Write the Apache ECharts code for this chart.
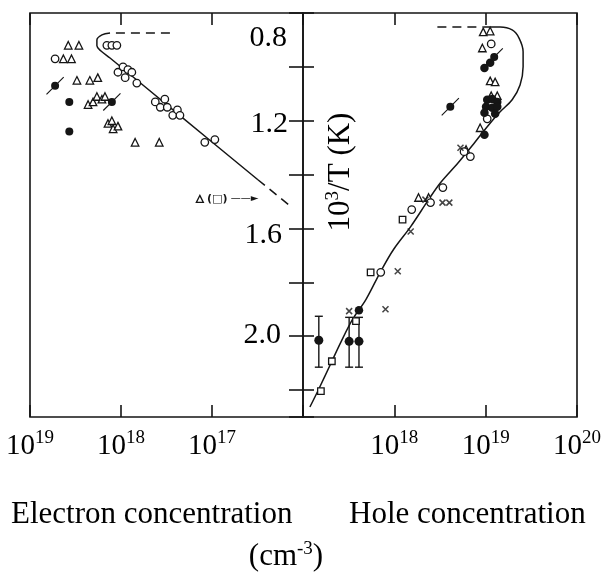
<!DOCTYPE html>
<html><head><meta charset="utf-8">
<script src="https://cdn.jsdelivr.net/npm/echarts@6/dist/echarts.min.js"></script>
<style>html,body{margin:0;padding:0;background:#fff}#c{width:606px;height:573px}</style>
</head><body><div id="c"></div>
<script>
// ---- tick labels ----
const leftTickExps = [19, 18, 17];
const rightTickExps = [18, 19, 20];
const yTickLabels = ['0.8', '1.2', '1.6', '2.0'];
const xTitleLeft = 'Electron concentration';
const xTitleRight = 'Hole concentration';

// ---- electron panel (n [cm^-3], 10^3/T) ----
const elecOpenCircles = [[1.43e18,0.92],[1.26e18,0.92],[1.11e18,0.92],[1.08e18,1.02],[9.5e17,1.00],[8.4e17,1.01],[7.6e17,1.02],[9.0e17,1.04],[6.7e17,1.06],[4.2e17,1.13],[3.7e17,1.15],[3.3e17,1.12],[3.1e17,1.15],[2.7e17,1.18],[2.4e17,1.16],[2.25e17,1.18],[1.2e17,1.28],[9.3e16,1.27],[5.3e18,0.97]];
const elecTriangles = [[3.8e18,0.92],[2.9e18,0.92],[4.3e18,0.97],[3.5e18,0.97],[3.05e18,1.05],[2.2e18,1.05],[1.8e18,1.04],[2.3e18,1.14],[2.03e18,1.13],[1.84e18,1.11],[1.62e18,1.12],[1.5e18,1.11],[1.39e18,1.21],[1.26e18,1.20],[1.22e18,1.23],[1.08e18,1.22],[7.0e17,1.28],[3.8e17,1.28]];
const elecAnnotTriangle = [[1.36e17,1.49]];
const elecFilled = [[3.7e18,1.13],[3.7e18,1.24]];
const elecSlashed = [[5.3e18,1.07],[1.26e18,1.13]];
const elecCurveDashTop = [[2.9e17,0.874],[1.32e18,0.874]];
const elecCurve = [[1.32e18,0.874],[1.62e18,0.881],[1.84e18,0.90],[1.84e18,0.922],[1.66e18,0.941],[1.32e18,0.967],[2.25e17,1.181],[3.13e16,1.419]];
const elecCurveDashEnd = [[3.13e16,1.419],[1.32e16,1.522]];

// ---- hole panel (p [cm^-3], 10^3/T) ----
const holeTriangles = [[9.4e18,0.87],[1.12e19,0.867],[9.2e18,0.93],[1.12e19,1.052],[1.27e19,1.056],[1.15e19,1.107],[1.34e19,1.107],[8.7e18,1.226],[6.1e18,1.307],[1.84e18,1.485],[2.37e18,1.485]];
const holeOpenCircles = [[1.15e19,0.915],[1.04e19,1.193],[6.8e18,1.333],[5.8e18,1.315],[3.4e18,1.448],[2.49e18,1.504],[1.55e18,1.53],[7.1e17,1.763]];
const holeSquares = [[1.23e18,1.567],[5.5e17,1.763],[3.8e17,1.944],[2.07e17,2.093],[1.57e17,2.204]];
const holeCrosses = [[5.3e18,1.30],[2.19e18,1.493],[3.37e18,1.504],[4.0e18,1.504],[1.51e18,1.611],[1.09e18,1.759],[8.0e17,1.90],[3.2e17,1.907]];
const holeFilled = [[1.12e19,0.985],[9.7e18,1.004],[1.04e19,1.122],[1.18e19,1.119],[1.34e19,1.13],[1.01e19,1.148],[1.18e19,1.152],[1.34e19,1.148],[9.7e18,1.17],[1.27e19,1.174],[9.7e18,1.252],[4.1e17,1.904]];
const holeSlashed = [[1.24e19,0.963],[4.1e18,1.148]];
const holeErrorBars = [[1.49e17,2.015,1.926,2.115],[3.2e17,2.019,1.93,2.115],[4.1e17,2.019,1.93,2.115]];
const holeCurveDashTop = [[2.96e18,0.852],[9.4e18,0.852]];
const holeCurve = [[9.4e18,0.852],[1.44e19,0.852],[1.95e19,0.863],[2.32e19,0.893],[2.57e19,0.944],[2.57e19,1.0],[2.38e19,1.067],[1.95e19,1.122],[1.44e19,1.167],[1.04e19,1.222],[7.7e18,1.278],[5.0e18,1.356],[3.2e18,1.43],[2.37e18,1.493],[1.51e18,1.593],[9.8e17,1.678],[7.1e17,1.759],[4.9e17,1.863],[3.5e17,1.937],[2.6e17,2.022],[2.0e17,2.104],[1.49e17,2.196],[1.19e17,2.263]];

// ---- styling ----
const INK = '#151515';
const SERIF = '"Liberation Serif", "Times New Roman", serif';
const slashPath = 'path://M-4,0A4,4,0,1,0,4,0A4,4,0,1,0,-4,0Z M-9,8.2L-8.2,9L9,-8.2L8.2,-9Z';
const crossPath = 'path://M0,0L10,10M10,0L0,10';
const richTick = {
  b: {fontFamily: SERIF, fontSize: 29, lineHeight: 32, color: '#000', verticalAlign: 'bottom'},
  s: {fontFamily: SERIF, fontSize: 19, lineHeight: 16, color: '#000', verticalAlign: 'top'}
};
function tickFmt(exps) {
  return function (v) {
    const e = Math.round(Math.log10(v));
    return exps.indexOf(e) >= 0 ? '{b|10}{s|' + e + '}' : '';
  };
}
function xAx(gi, pos, minV, maxV, inv, exps) {
  return {
    type: 'log', logBase: 10, gridIndex: gi, position: pos, min: minV, max: maxV, inverse: inv,
    axisLine: {show: false},
    axisTick: {show: true, inside: true, length: 12, lineStyle: {color: INK, width: 1.6}},
    splitLine: {show: false}, minorTick: {show: false},
    axisLabel: exps ? {show: true, margin: 12, showMinLabel: true, showMaxLabel: true, formatter: tickFmt(exps), rich: richTick} : {show: false}
  };
}
function yAx(gi, pos, len) {
  return {
    type: 'value', gridIndex: gi, position: pos, inverse: true, min: 0.8, max: 2.3, interval: 0.2,
    axisLine: {show: false},
    axisTick: {show: true, inside: true, length: len, lineStyle: {color: INK, width: 1.6}},
    axisLabel: {show: false}, splitLine: {show: false}
  };
}
function lineS(xi, yi, data, dashed) {
  return {type: 'line', xAxisIndex: xi, yAxisIndex: yi, data: data, symbol: 'none', smooth: dashed ? false : 0.35,
    lineStyle: {color: INK, width: 1.5, type: dashed ? [9, 6] : 'solid'}, z: 2, silent: true};
}
function openS(xi, yi, data, symbol, size) {
  return {type: 'scatter', xAxisIndex: xi, yAxisIndex: yi, data: data, symbol: symbol, symbolSize: size,
    itemStyle: {color: '#fff', borderColor: INK, borderWidth: 1.3, opacity: 1}, z: 5};
}
function filledS(xi, yi, data, symbol, size) {
  return {type: 'scatter', xAxisIndex: xi, yAxisIndex: yi, data: data, symbol: symbol, symbolSize: size,
    itemStyle: {color: INK, opacity: 1}, z: 6};
}

const option = {
  animation: false,
  backgroundColor: '#fff',
  grid: [
    {left: 30, top: 13, width: 273, height: 404, show: true, borderColor: INK, borderWidth: 1.6},
    {left: 303, top: 13, width: 274, height: 404, show: true, borderColor: INK, borderWidth: 1.6}
  ],
  xAxis: [
    xAx(0, 'bottom', 1e16, 1e19, true, leftTickExps),
    xAx(0, 'top', 1e16, 1e19, true, null),
    xAx(1, 'bottom', 1e17, 1e20, false, rightTickExps),
    xAx(1, 'top', 1e17, 1e20, false, null)
  ],
  yAxis: [yAx(0, 'right', 14), yAx(1, 'left', 11)],
  series: [
    lineS(0, 0, elecCurveDashTop, true),
    lineS(0, 0, elecCurve, false),
    lineS(0, 0, elecCurveDashEnd, true),
    openS(0, 0, elecOpenCircles, 'circle', 7.5),
    openS(0, 0, elecTriangles, 'triangle', 7.5),
    Object.assign(openS(0, 0, elecAnnotTriangle, 'triangle', 7), {
      label: {show: true, position: 'right', distance: 3,
        formatter: '{t|(□)} {a|——►}',
        rich: {t: {fontFamily: '"DejaVu Sans"', fontSize: 11, fontWeight: 'bold', color: INK},
               a: {fontFamily: '"DejaVu Sans"', fontSize: 10, color: INK}}}
    }),
    filledS(0, 0, elecFilled, 'circle', 8),
    filledS(0, 0, elecSlashed, slashPath, 18),

    lineS(2, 1, holeCurveDashTop, true),
    lineS(2, 1, holeCurve, false),
    {
      type: 'custom', xAxisIndex: 2, yAxisIndex: 1, data: holeErrorBars, z: 4,
      encode: {x: 0, y: 1},
      renderItem: function (params, api) {
        const a = api.coord([api.value(0), api.value(2)]);
        const b = api.coord([api.value(0), api.value(3)]);
        const st = {stroke: INK, lineWidth: 1.4};
        return {type: 'group', children: [
          {type: 'line', shape: {x1: a[0], y1: a[1], x2: b[0], y2: b[1]}, style: st},
          {type: 'line', shape: {x1: a[0] - 4, y1: a[1], x2: a[0] + 4, y2: a[1]}, style: st},
          {type: 'line', shape: {x1: b[0] - 4, y1: b[1], x2: b[0] + 4, y2: b[1]}, style: st}
        ]};
      }
    },
    openS(2, 1, holeTriangles, 'triangle', 7.5),
    openS(2, 1, holeOpenCircles, 'circle', 7.5),
    openS(2, 1, holeSquares, 'rect', 6.5),
    {type: 'scatter', xAxisIndex: 2, yAxisIndex: 1, data: holeCrosses, symbol: crossPath, symbolSize: 6,
      itemStyle: {color: 'rgba(0,0,0,0)', borderColor: INK, borderWidth: 1.5}, z: 5},
    filledS(2, 1, holeFilled, 'circle', 8.5),
    filledS(2, 1, holeSlashed, slashPath, 18),
    filledS(2, 1, holeErrorBars.map(d => [d[0], d[1]]), 'circle', 9)
  ],
  graphic: [
    {type: 'text', x: 287, y: 38, style: {text: yTickLabels[0], fontFamily: SERIF, fontSize: 30, fill: '#000', align: 'right', verticalAlign: 'middle'}},
    {type: 'text', x: 288, y: 124, style: {text: yTickLabels[1], fontFamily: SERIF, fontSize: 30, fill: '#000', align: 'right', verticalAlign: 'middle'}},
    {type: 'text', x: 282, y: 235, style: {text: yTickLabels[2], fontFamily: SERIF, fontSize: 30, fill: '#000', align: 'right', verticalAlign: 'middle'}},
    {type: 'text', x: 281, y: 335, style: {text: yTickLabels[3], fontFamily: SERIF, fontSize: 30, fill: '#000', align: 'right', verticalAlign: 'middle'}},
    {type: 'text', x: 340, y: 172, rotation: Math.PI / 2,
      style: {text: '{n|10}{s|3}{n|/T (K)}', align: 'center', verticalAlign: 'middle',
        rich: {n: {fontFamily: SERIF, fontSize: 31, lineHeight: 32, fill: '#000', verticalAlign: 'bottom'},
               s: {fontFamily: SERIF, fontSize: 19, lineHeight: 18, fill: '#000', verticalAlign: 'top'}}}},
    {type: 'text', x: 11, y: 515, style: {text: xTitleLeft, fontFamily: SERIF, fontSize: 31, fill: '#000', align: 'left', verticalAlign: 'middle'}},
    {type: 'text', x: 349, y: 515, style: {text: xTitleRight, fontFamily: SERIF, fontSize: 31, fill: '#000', align: 'left', verticalAlign: 'middle'}},
    {type: 'text', x: 286, y: 556,
      style: {text: '{n|(cm}{s|-3}{n|)}', align: 'center', verticalAlign: 'middle',
        rich: {n: {fontFamily: SERIF, fontSize: 31, lineHeight: 32, fill: '#000', verticalAlign: 'bottom'},
               s: {fontFamily: SERIF, fontSize: 19, lineHeight: 18, fill: '#000', verticalAlign: 'top'}}}}
  ]
};
const chart = echarts.init(document.getElementById('c'), null, {renderer: 'canvas'});
chart.setOption(option);
</script>
</body></html>
